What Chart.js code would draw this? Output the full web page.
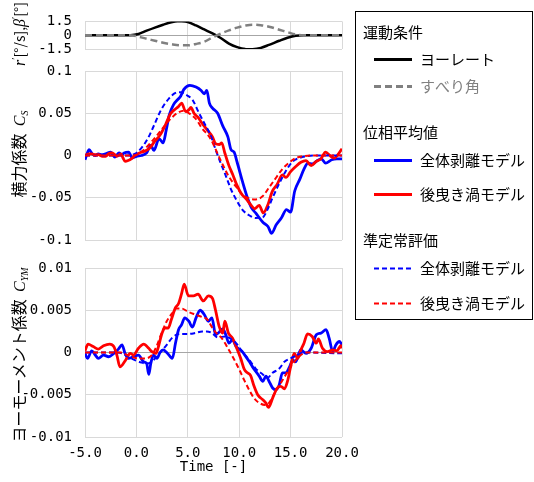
<!DOCTYPE html>
<html>
<head>
<meta charset="utf-8">
<script src="https://cdn.jsdelivr.net/npm/chart.js@4/dist/chart.umd.min.js"></script>
<style>
  html, body { margin: 0; padding: 0; background: #fff; }
  #wrap { position: relative; width: 534px; height: 482px; overflow: hidden; }
  #wrap canvas { position: absolute; left: 0; top: 0; }
  .ytitle {
    position: absolute; z-index: 5; white-space: nowrap; color: #000;
    font: 16px "Noto Sans CJK JP", sans-serif; line-height: 20px;
    transform: translate(-50%, -50%) rotate(-90deg);
  }
  .ytitle i { font-family: "Liberation Serif", "DejaVu Serif", serif; font-style: italic; font-size: 16px; }
  .ytitle sub, .ytitle sup {
    font-family: "Liberation Serif", "DejaVu Serif", serif; font-style: italic; font-size: 10px; line-height: 0;
  }
  .ytitle sub { vertical-align: -3px; }
  .ytitle sup { vertical-align: 6px; font-style: normal; }
  .ytitle .unit { font-size: 14px; }
</style>
</head>
<body>
<div id="wrap">
  <canvas id="motion" width="534" height="482"></canvas>
  <canvas id="side" width="534" height="482"></canvas>
  <canvas id="yaw" width="534" height="482"></canvas>
  <div class="ytitle" style="left:19px; top:34px;"><i>r</i><sup>′</sup><span class="unit">[°/s],</span><i>β</i><sup>′</sup><span class="unit">[°]</span></div>
  <div class="ytitle" style="left:19px; top:154px;">横力係数&nbsp; <i>C</i><sub>S</sub></div>
  <div class="ytitle" style="left:19px; top:355px;">ヨーモーメント係数&nbsp; <i>C</i><sub>YM</sub></div>
</div>
<script>
// ---- axis ticks ----
const timeTicks = [-5, 0, 5, 10, 15, 20];
const timeTickLabels = ['-5.0', '0.0', '5.0', '10.0', '15.0', '20.0'];
const motionTicks = [-1.5, 0, 1.5];
const motionTickLabels = ['-1.5', '0', '1.5'];
const sideTicks = [-0.1, -0.05, 0, 0.05, 0.1];
const sideTickLabels = ['-0.1', '-0.05', '0', '0.05', '0.1'];
const yawTicks = [-0.01, -0.005, 0, 0.005, 0.01];
const yawTickLabels = ['-0.01', '-0.005', '0', '0.005', '0.01'];

// ---- motion condition: [time, value] ----
const yawRate = [[-5, 0], [-0.6, 0], [0.2, 0.13], [1.0, 0.49], [1.8, 0.83], [2.6, 1.14], [3.4, 1.40], [4.2, 1.53],
  [5.0, 1.42], [5.8, 1.06], [6.6, 0.62], [7.4, 0.20], [8.2, -0.30], [9.0, -0.92], [9.8, -1.30], [10.6, -1.50],
  [11.3, -1.52], [12.1, -1.38], [12.9, -1.05], [13.9, -0.60], [14.7, -0.27], [15.5, -0.05], [16.3, 0], [20, 0]];
const driftAngle = [[-5, 0], [-0.6, 0], [0.2, -0.16], [1.0, -0.39], [1.8, -0.60], [2.6, -0.82], [3.4, -0.98], [4.2, -1.09],
  [5.0, -1.10], [5.8, -0.95], [6.6, -0.72], [7.4, -0.24], [8.2, 0.17], [9.0, 0.52], [9.8, 0.82], [10.6, 1.04],
  [11.3, 1.14], [12.1, 1.08], [12.9, 0.92], [13.9, 0.60], [14.7, 0.33], [15.5, 0.08], [16.3, 0], [20, 0]];

// ---- side force coefficient C_S ----
const csSepPhase = [[-5, -0.005], [-4.8, 0.002], [-4.6, 0.007], [-4.3, 0.002], [-4.0, 0.0], [-3.7, 0.002], [-3.4, 0.001],
  [-3.0, 0.002], [-2.5, 0.004], [-2.1, -0.002], [-1.7, 0.003], [-1.4, 0.001], [-1.2, 0.003], [-0.75, 0.004], [-0.4, -0.003],
  [0, -0.001], [0.5, 0.0], [1.0, 0.003], [1.4, 0.012], [1.7, 0.006], [2.2, 0.020], [2.6, 0.015], [2.9, 0.030], [3.2, 0.048],
  [3.6, 0.060], [4.0, 0.066], [4.3, 0.070], [4.6, 0.078], [5.2, 0.083], [5.8, 0.081], [6.3, 0.077], [6.6, 0.073],
  [6.85, 0.077], [7.1, 0.062], [7.4, 0.056], [7.9, 0.050], [8.4, 0.035], [8.9, 0.022], [9.2, 0.007], [9.5, 0.004],
  [9.8, -0.008], [10.3, -0.030], [10.8, -0.050], [11.2, -0.062], [11.6, -0.068], [12.3, -0.079], [12.8, -0.084],
  [13.15, -0.092], [13.6, -0.082], [14.1, -0.074], [14.6, -0.064], [15.0, -0.067], [15.4, -0.042], [15.9, -0.028],
  [16.3, -0.016], [16.7, -0.009], [17.1, -0.010], [17.6, -0.006], [18.0, -0.004], [18.4, -0.009], [19.0, -0.005],
  [19.5, -0.004], [20, -0.004]];
const csWakePhase = [[-5, 0.0], [-4.6, 0.002], [-4.35, 0.002], [-4.0, 0.001], [-3.7, 0.001], [-3.3, -0.001], [-3.0, -0.001],
  [-2.7, 0.002], [-2.4, 0.003], [-2.1, 0.001], [-1.9, -0.001], [-1.5, 0.002], [-1.3, -0.003], [-1.1, -0.007], [-0.8, -0.006],
  [-0.5, -0.004], [-0.15, 0.0], [0.3, 0.003], [0.8, 0.005], [1.3, 0.009], [1.8, 0.017], [2.35, 0.025], [2.85, 0.037],
  [3.3, 0.049], [3.8, 0.055], [4.1, 0.058], [4.4, 0.062], [4.8, 0.052], [5.1, 0.054], [5.3, 0.057], [5.6, 0.050],
  [6.0, 0.045], [6.4, 0.038], [6.9, 0.030], [7.4, 0.022], [7.7, 0.014], [8.05, 0.013], [8.3, 0.015], [8.6, 0.003],
  [9.0, -0.012], [9.35, -0.022], [9.7, -0.033], [10.2, -0.045], [10.65, -0.051], [11.1, -0.058], [11.5, -0.063],
  [11.95, -0.059], [12.35, -0.068], [12.8, -0.058], [13.2, -0.043], [13.7, -0.034], [14.2, -0.023], [14.55, -0.026],
  [15.0, -0.019], [15.5, -0.013], [16.0, -0.008], [16.5, -0.006], [17.0, -0.012], [17.5, -0.007], [17.95, -0.004],
  [18.4, 0.004], [18.9, -0.001], [19.25, -0.003], [19.6, 0.001], [20, 0.008]];
const csSepQs = [[-5, 0], [-1.0, 0], [-0.5, 0.0005], [0, 0.003], [0.5, 0.009], [1.15, 0.021], [1.8, 0.038], [2.4, 0.054],
  [3.2, 0.068], [3.8, 0.074], [4.3, 0.075], [4.8, 0.072], [5.45, 0.066], [6.1, 0.050], [6.75, 0.035], [7.1, 0.027],
  [7.4, 0.018], [7.7, 0.007], [8.2, -0.009], [8.7, -0.024], [9.2, -0.040], [9.7, -0.052], [10.3, -0.064], [11.0, -0.071],
  [11.6, -0.074], [12.3, -0.073], [12.75, -0.064], [13.25, -0.050], [13.9, -0.033], [14.55, -0.018], [15.2, -0.007],
  [15.85, -0.003], [16.5, -0.001], [17.5, 0], [20, 0]];
const csWakeQs = [[-5, 0], [-0.5, 0], [0, 0.001], [0.65, 0.006], [1.3, 0.014], [1.95, 0.023], [2.6, 0.033], [3.3, 0.043],
  [3.95, 0.050], [4.6, 0.053], [5.1, 0.050], [5.8, 0.043], [6.4, 0.032], [7.1, 0.022], [7.5, 0.013], [7.9, 0.002],
  [8.4, -0.011], [9.0, -0.025], [9.7, -0.037], [10.3, -0.046], [11.0, -0.051], [11.6, -0.052], [12.3, -0.048],
  [12.9, -0.038], [13.6, -0.026], [14.2, -0.016], [14.9, -0.008], [15.5, -0.003], [16.2, -0.001], [17.0, 0], [20, 0]];

// ---- yaw moment coefficient C_YM ----
const cymSepPhase = [[-5, -0.0001], [-4.75, -0.0007], [-4.35, 0.0002], [-4.0, -0.0003], [-3.7, -0.0007], [-3.2, -0.0003],
  [-2.7, -0.0005], [-2.2, -0.0001], [-1.75, 0.0004], [-1.4, 0.0009], [-1.1, -0.0001], [-0.8, -0.0007], [-0.3, -0.0005],
  [0.2, -0.0003], [0.7, -0.0011], [1.0, -0.0013], [1.2, -0.0026], [1.4, -0.0013], [1.65, -0.0003], [2.0, -0.0007],
  [2.3, 0.0], [2.6, 0.0003], [2.95, 0.0], [3.3, -0.0005], [3.5, -0.0007], [3.8, 0.0011], [4.1, 0.0027], [4.4, 0.0033],
  [4.7, 0.0041], [5.1, 0.0037], [5.45, 0.0030], [5.8, 0.0041], [6.2, 0.0050], [6.6, 0.0045], [7.0, 0.0037],
  [7.35, 0.0041], [7.7, 0.0021], [8.05, 0.0024], [8.4, 0.0028], [8.7, 0.0021], [9.0, 0.0011], [9.35, 0.0015],
  [9.7, 0.0007], [10.0, 0.0004], [10.3, 0.0001], [10.65, -0.0005], [11.0, -0.0011], [11.3, -0.0017], [11.6, -0.0022],
  [11.95, -0.0028], [12.3, -0.0034], [12.6, -0.0028], [12.9, -0.0034], [13.25, -0.0042], [13.6, -0.0044],
  [13.9, -0.0038], [14.2, -0.0024], [14.55, -0.0024], [14.9, -0.0017], [15.2, -0.0009], [15.5, -0.0011],
  [15.8, -0.0001], [16.0, 0.0003], [16.5, -0.0001], [17.0, 0.0005], [17.5, 0.0021], [17.95, 0.0023], [18.45, 0.0027],
  [18.75, 0.0017], [19.1, 0.0001], [19.4, 0.0009], [19.75, 0.0013], [20, 0.0009]];
const cymWakePhase = [[-5, 0.0002], [-4.7, 0.0010], [-4.2, 0.0007], [-3.7, 0.0004], [-3.2, 0.0008], [-2.6, 0.0010],
  [-2.2, 0.0007], [-1.9, -0.0003], [-1.6, -0.0017], [-1.1, -0.0010], [-0.6, -0.0001], [-0.3, -0.0003], [0.2, 0.0005],
  [0.7, 0.0010], [1.2, 0.0005], [1.5, 0.0001], [1.9, -0.0001], [2.1, 0.0005], [2.5, 0.0023], [2.8, 0.0029],
  [3.1, 0.0029], [3.4, 0.0039], [3.8, 0.0053], [4.1, 0.0058], [4.4, 0.0070], [4.65, 0.0081], [5.06, 0.0067],
  [5.55, 0.0067], [6.0, 0.0069], [6.5, 0.0061], [7.0, 0.0067], [7.4, 0.0064], [7.7, 0.0050], [8.05, 0.0031],
  [8.4, 0.0023], [8.6, 0.0037], [8.95, 0.0023], [9.35, 0.0017], [9.7, 0.0007], [10.15, -0.0007], [10.5, -0.0020],
  [10.8, -0.0024], [11.1, -0.0027], [11.45, -0.0040], [11.8, -0.0050], [12.3, -0.0056], [12.6, -0.0060],
  [12.85, -0.0065], [13.25, -0.0054], [13.7, -0.0042], [14.05, -0.0040], [14.4, -0.0043], [14.7, -0.0034],
  [15.0, -0.0017], [15.35, -0.0001], [15.7, -0.0007], [16.0, 0.0003], [16.3, 0.0011], [16.65, 0.0022], [17.1, 0.0019],
  [17.5, 0.0011], [17.7, 0.0016], [18.1, 0.0005], [18.6, 0.0001], [19.1, 0.0003], [19.5, 0.0002], [19.9, 0.0008],
  [20, 0.0005]];
const cymSepQs = [[-5, 0], [-1.8, 0], [-1.4, -0.0001], [-0.8, -0.0005], [-0.15, -0.0009], [0.5, -0.0012], [1.0, -0.0013],
  [1.5, -0.0011], [1.95, -0.0005], [2.45, 0.0002], [2.95, 0.0009], [3.45, 0.0017], [3.9, 0.0021], [4.4, 0.0022],
  [5.06, 0.0022], [5.7, 0.0023], [6.4, 0.0025], [6.85, 0.0025], [7.35, 0.0023], [7.9, 0.0018], [8.7, 0.0019],
  [9.2, 0.0016], [9.7, 0.0011], [10.3, 0.0001], [11.0, -0.0009], [11.6, -0.0019], [12.3, -0.0026], [12.75, -0.0030],
  [13.25, -0.0024], [13.9, -0.0019], [14.4, -0.0011], [15.0, -0.0007], [15.7, -0.0003], [16.3, 0], [20, -0.0001]];
const cymWakeQs = [[-5, 0], [-1.5, 0], [-1.1, -0.0002], [-0.45, -0.0005], [0.2, -0.0007], [0.85, -0.0007], [1.5, -0.0003],
  [1.95, 0.0007], [2.45, 0.0023], [2.95, 0.0037], [3.45, 0.0046], [3.9, 0.0052], [4.4, 0.0052], [5.06, 0.0048],
  [5.7, 0.0045], [6.4, 0.0042], [6.9, 0.0039], [7.35, 0.0030], [7.7, 0.0024], [8.3, 0.0017], [9.0, 0.0003],
  [9.5, -0.0008], [10.0, -0.0020], [10.5, -0.0033], [11.0, -0.0045], [11.5, -0.0055], [12.0, -0.0060], [12.5, -0.0062],
  [12.8, -0.0061], [13.1, -0.0056], [13.55, -0.0046], [14.05, -0.0036], [14.55, -0.0026], [15.0, -0.0017],
  [15.5, -0.0009], [16.0, -0.0003], [16.5, 0], [20, 0]];

// ---- styles ----
const BLUE = '#0000ff', RED = '#ff0000', BLACK = '#000000', GRAY = '#808080';
const GRID = '#d9d9d9', ZERO = '#a6a6a6';
const NUM_FONT = '"DejaVu Sans Mono", monospace';
const JP_FONT = '"Noto Sans CJK JP", sans-serif';
const SOLID = { width: 2.8, dash: [] };
const QS_DASH = { width: 2, dash: [5, 3] };
const MOTION_STYLE = { width: 2.5, dash: [] };
const DRIFT_STYLE = { width: 2.5, dash: [7, 4] };

const pts = arr => arr.map(([x, y]) => ({ x, y }));

function series(data, color, style) {
  return {
    data: pts(data), borderColor: color, borderWidth: style.width, borderDash: style.dash,
    pointRadius: 0, fill: false, cubicInterpolationMode: 'monotone', borderCapStyle: 'butt'
  };
}

function xScale(withLabels) {
  return {
    type: 'linear', min: -5, max: 20,
    afterBuildTicks: s => { s.ticks = timeTicks.map(v => ({ value: v })); },
    afterFit: s => { s.height = withLabels ? 45 : 0; },
    ticks: {
      display: withLabels, autoSkip: false, maxRotation: 0, padding: 8,
      callback: (v, i) => timeTickLabels[i], font: { family: NUM_FONT, size: 14 }, color: '#000'
    },
    grid: { color: GRID, lineWidth: 1, drawTicks: false },
    border: { display: false },
    title: withLabels
      ? { display: true, text: 'Time [-]', color: '#000', font: { family: NUM_FONT, size: 14 }, padding: { top: 0, bottom: 6 } }
      : { display: false }
  };
}

function yScale(min, max, ticks, labels) {
  return {
    type: 'linear', min, max,
    afterBuildTicks: s => { s.ticks = ticks.map(v => ({ value: v })); },
    afterFit: s => { s.width = 85; },
    ticks: {
      autoSkip: false, padding: 13, callback: (v, i) => labels[i],
      font: { family: NUM_FONT, size: 14 }, color: '#000'
    },
    grid: { color: c => (c.tick && c.tick.value === 0 ? ZERO : GRID), lineWidth: 1, drawTicks: false },
    border: { display: false }
  };
}

// grouped legend box on the right
const groupLegend = {
  id: 'groupLegend',
  afterDraw(chart, args, opts) {
    if (!opts.rows) return;
    const ctx = chart.ctx;
    const b = opts.box;
    ctx.save();
    ctx.strokeStyle = '#000';
    ctx.lineWidth = 1;
    ctx.strokeRect(b.x + 0.5, b.y + 0.5, b.w, b.h);
    ctx.font = '15px ' + JP_FONT;
    ctx.textBaseline = 'middle';
    ctx.textAlign = 'left';
    opts.rows.forEach(r => {
      if (r.color) {
        ctx.beginPath();
        ctx.strokeStyle = r.color;
        ctx.lineWidth = r.width;
        ctx.setLineDash(r.dash);
        ctx.moveTo(opts.lineX0, r.y + 0.5);
        ctx.lineTo(opts.lineX1, r.y + 0.5);
        ctx.stroke();
        ctx.setLineDash([]);
        ctx.fillStyle = r.textColor || '#000';
        ctx.fillText(r.label, opts.textX, r.y);
      } else {
        ctx.fillStyle = '#000';
        ctx.fillText(r.label, opts.headX, r.y);
      }
    });
    ctx.restore();
  }
};

Chart.register(groupLegend);

const common = {
  responsive: false, animation: false, devicePixelRatio: 1, events: [],
  plugins: { legend: { display: false }, tooltip: { enabled: false } }
};

function makeChart(id, datasets, scales, padding, plugins) {
  return new Chart(document.getElementById(id), {
    type: 'line',
    data: { datasets },
    options: Object.assign({}, common, {
      layout: { padding },
      scales,
      plugins: Object.assign({}, common.plugins, plugins || {})
    })
  });
}

makeChart('motion',
  [series(driftAngle, GRAY, DRIFT_STYLE), series(yawRate, BLACK, MOTION_STYLE)],
  { x: xScale(false), y: yScale(-1.5, 1.5, motionTicks, motionTickLabels) },
  { left: 0, right: 192, top: 18, bottom: 433 });

makeChart('side',
  [series(csWakeQs, RED, QS_DASH), series(csSepQs, BLUE, QS_DASH),
   series(csWakePhase, RED, SOLID), series(csSepPhase, BLUE, SOLID)],
  { x: xScale(false), y: yScale(-0.1, 0.1, sideTicks, sideTickLabels) },
  { left: 0, right: 192, top: 71, bottom: 242 });

makeChart('yaw',
  [series(cymWakeQs, RED, QS_DASH), series(cymSepQs, BLUE, QS_DASH),
   series(cymWakePhase, RED, SOLID), series(cymSepPhase, BLUE, SOLID)],
  { x: xScale(true), y: yScale(-0.01, 0.01, yawTicks, yawTickLabels) },
  { left: 0, right: 192, top: 268, bottom: 0 },
  {
    groupLegend: {
      box: { x: 355, y: 11, w: 177, h: 308 },
      headX: 363, lineX0: 374, lineX1: 412, textX: 420,
      rows: [
        { label: '運動条件', y: 32 },
        { label: 'ヨーレート', y: 59, color: BLACK, width: 3, dash: [] },
        { label: 'すべり角', y: 86, color: GRAY, width: 3, dash: [7, 4], textColor: GRAY },
        { label: '位相平均値', y: 132 },
        { label: '全体剥離モデル', y: 160, color: BLUE, width: 3, dash: [] },
        { label: '後曳き渦モデル', y: 194, color: RED, width: 3, dash: [] },
        { label: '準定常評価', y: 240 },
        { label: '全体剥離モデル', y: 268, color: BLUE, width: 2, dash: [5, 3] },
        { label: '後曳き渦モデル', y: 303, color: RED, width: 2, dash: [5, 3] }
      ]
    }
  });
</script>
</body>
</html>
